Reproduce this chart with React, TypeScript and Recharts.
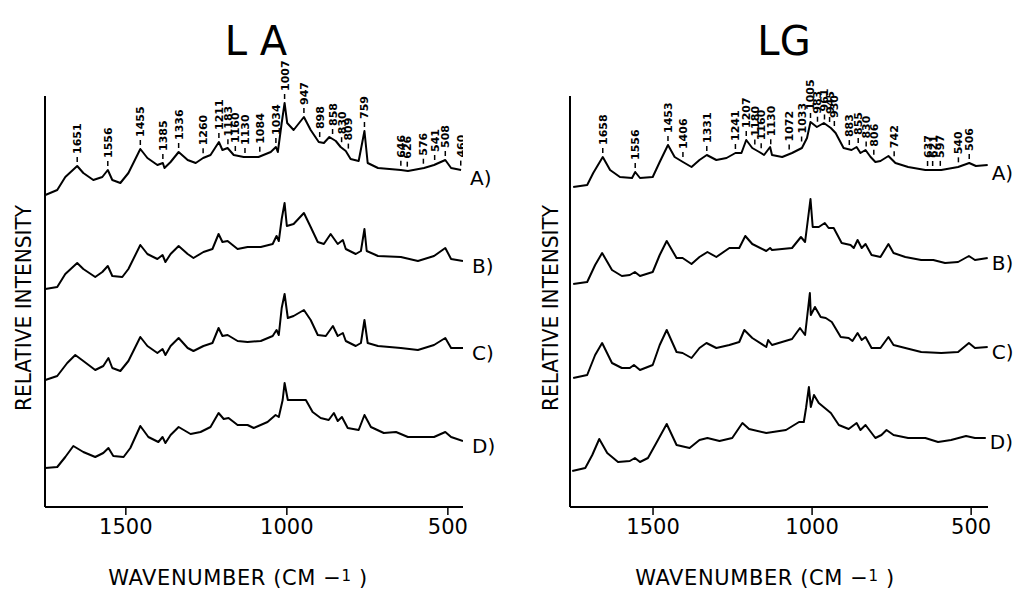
import React from 'react';
import { ComposedChart, Line, Scatter, XAxis, YAxis } from 'recharts';

type Pt = [number, number];

// wavenumber (cm-1), relative intensity (arbitrary units)
const laA: Pt[] = [[1750,312],[1713,317],[1688,330],[1651,341],[1632,334],[1601,327],[1573,330],[1556,337],[1542,327],[1517,324],[1492,334],[1455,358],[1433,349],[1402,342],[1385,344],[1380,339],[1361,345],[1336,355],[1308,347],[1283,344],[1260,349],[1237,352],[1211,365],[1200,357],[1184,359],[1165,352],[1134,350],[1088,350],[1050,355],[1034,360],[1028,355],[1016,384],[1007,404],[999,384],[979,377],[947,390],[926,377],[901,365],[885,364],[868,370],[848,366],[833,360],[817,356],[802,348],[777,346],[759,376],[749,344],[717,339],[646,337],[624,336],[574,339],[543,342],[508,347],[490,339],[459,337]];
const laB: Pt[] = [[1750,212],[1713,214],[1688,227],[1651,238],[1632,232],[1595,224],[1573,229],[1556,235],[1542,225],[1511,224],[1492,232],[1455,256],[1433,247],[1402,242],[1386,246],[1377,239],[1361,247],[1336,255],[1308,247],[1290,243],[1259,249],[1231,252],[1212,267],[1200,259],[1184,260],[1153,252],[1122,254],[1081,254],[1044,257],[1032,265],[1025,260],[1016,282],[1007,298],[1000,275],[979,277],[947,288],[926,274],[904,259],[885,257],[864,267],[842,257],[826,261],[817,252],[786,247],[770,250],[759,272],[752,250],[717,245],[646,244],[593,240],[543,245],[508,253],[490,242],[453,240]];
const laC: Pt[] = [[1750,110],[1713,114],[1682,127],[1657,135],[1632,129],[1595,120],[1570,124],[1554,132],[1542,122],[1517,119],[1492,129],[1455,153],[1433,144],[1402,137],[1386,141],[1377,135],[1361,144],[1336,152],[1308,142],[1290,139],[1259,144],[1231,147],[1212,162],[1200,154],[1184,155],[1153,149],[1122,148],[1081,149],[1044,154],[1032,160],[1025,155],[1016,182],[1007,196],[997,172],[979,174],[947,180],[926,170],[904,155],[879,154],[857,164],[842,154],[826,157],[817,149],[786,144],[770,147],[759,170],[749,147],[717,144],[646,142],[593,140],[543,145],[508,152],[490,142],[453,142]];
const laD: Pt[] = [[1750,9],[1713,10],[1688,20],[1663,31],[1632,25],[1595,20],[1570,24],[1554,29],[1539,21],[1507,20],[1486,29],[1455,51],[1430,40],[1399,35],[1386,40],[1377,34],[1361,42],[1336,50],[1299,43],[1268,45],[1237,50],[1212,64],[1196,58],[1181,59],[1153,52],[1122,52],[1103,49],[1060,55],[1035,62],[1025,60],[1013,77],[1007,94],[997,77],[979,77],[941,77],[920,65],[895,59],[870,57],[854,64],[842,56],[829,60],[811,49],[777,47],[759,62],[739,50],[699,44],[661,45],[624,40],[543,40],[508,45],[490,40],[453,36]];

const lgA: Pt[] = [[1751,320],[1707,322],[1688,334],[1658,350],[1635,337],[1604,330],[1566,329],[1556,335],[1541,329],[1501,330],[1479,345],[1453,362],[1432,350],[1406,345],[1379,340],[1354,347],[1331,352],[1301,347],[1269,349],[1241,354],[1222,354],[1207,367],[1188,359],[1166,355],[1151,352],[1132,360],[1126,352],[1094,350],[1063,354],[1032,359],[1016,369],[1005,385],[985,380],[963,384],[941,379],[926,374],[901,359],[876,357],[860,360],[848,354],[832,357],[816,350],[801,345],[785,346],[760,351],[738,344],[698,340],[644,337],[594,337],[541,340],[506,344],[485,341],[448,342]];
const lgB: Pt[] = [[1751,218],[1707,220],[1682,237],[1660,249],[1629,232],[1598,226],[1573,227],[1557,230],[1541,226],[1501,230],[1479,247],[1457,261],[1426,244],[1407,244],[1379,238],[1354,245],[1329,250],[1301,245],[1260,254],[1229,254],[1210,266],[1188,258],[1144,251],[1132,254],[1126,252],[1063,254],[1035,265],[1022,260],[1005,303],[998,275],[979,275],[960,279],[948,274],[932,274],[907,259],[879,257],[869,254],[857,262],[844,254],[832,258],[813,247],[785,245],[760,258],[744,249],[707,245],[657,242],[619,242],[582,239],[541,240],[507,246],[488,242],[448,244]];
const lgC: Pt[] = [[1751,114],[1707,117],[1682,137],[1660,149],[1629,129],[1598,124],[1573,124],[1560,127],[1541,122],[1501,127],[1479,147],[1457,162],[1426,140],[1407,139],[1379,134],[1354,144],[1332,149],[1301,144],[1260,147],[1229,150],[1213,162],[1188,154],[1144,145],[1138,152],[1126,147],[1063,153],[1038,164],[1022,157],[1007,199],[1004,177],[991,185],[973,175],[957,174],[938,170],[910,155],[885,154],[873,151],[857,159],[844,152],[832,155],[813,144],[785,144],[760,155],[744,147],[707,144],[657,140],[594,139],[541,140],[507,149],[488,144],[448,145]];
const lgD: Pt[] = [[1754,11],[1713,14],[1691,27],[1669,43],[1644,29],[1610,20],[1573,21],[1557,24],[1541,20],[1516,24],[1488,40],[1457,58],[1426,37],[1385,34],[1354,42],[1329,44],[1291,41],[1251,44],[1219,59],[1198,53],[1144,49],[1082,52],[1041,60],[1026,60],[1019,74],[1010,95],[1004,75],[994,87],[979,79],[941,69],[916,57],[885,53],[860,59],[848,52],[832,57],[801,44],[782,47],[766,52],[744,47],[698,44],[644,44],[604,40],[563,42],[516,46],[488,44],[454,44]];

const laPeaks = [1651, 1556, 1455, 1385, 1336, 1260, 1211, 1183, 1160, 1130, 1084, 1034, 1007, 947, 898, 858, 830, 809, 759, 646, 626, 576, 541, 508, 460];
const lgPeaks = [1658, 1556, 1453, 1406, 1331, 1241, 1207, 1180, 1160, 1130, 1072, 1033, 1005, 983, 961, 945, 930, 883, 855, 830, 806, 742, 637, 621, 597, 540, 506];

const traceNames = ['A)', 'B)', 'C)', 'D)'];
const xTicks = [500, 1000, 1500];

const FONT = 'DejaVu Sans, sans-serif';

const rows = (pts: Pt[], shift: number) => pts.map(([wn, v]) => ({ wn, v: v + shift }));

const interp = (pts: Pt[], wn: number) => {
  for (let i = 0; i < pts.length - 1; i++) {
    const [x0, y0] = pts[i];
    const [x1, y1] = pts[i + 1];
    if (wn <= x0 && wn >= x1) return y0 + ((x0 - wn) / (x0 - x1)) * (y1 - y0);
  }
  return pts[pts.length - 1][1];
};

// label sits above the local top of trace A
const peakRows = (pts: Pt[], peaks: number[]) =>
  peaks.map((wn) => ({
    wn,
    v: Math.max(interp(pts, wn - 5), interp(pts, wn), interp(pts, wn + 5)),
    label: String(wn),
  }));

const PeakMark = (props: any) => {
  const { cx, cy, payload } = props;
  if (cx == null || cy == null) return <g />;
  const ty = cy - 12;
  return (
    <g>
      <line x1={cx} x2={cx} y1={cy - 4} y2={cy - 9} stroke="#000" strokeWidth={1.5} />
      <text
        x={cx}
        y={ty}
        transform={`rotate(-90 ${cx} ${ty})`}
        dy="0.36em"
        fontSize={11}
        fontWeight="bold"
        fontFamily={FONT}
        fill="#000"
      >
        {payload.label}
      </text>
    </g>
  );
};

const endLabel = (name: string, last: number, dx: number, dy: number) => (props: any) => {
  if (props.index !== last) return <g key={props.index} />;
  return (
    <text key={props.index} x={props.x + dx} y={props.y + dy} dy="0.36em" fontSize={20} fontFamily={FONT} fill="#000">
      {name}
    </text>
  );
};

interface PanelProps {
  traces: Pt[][];
  shifts: number[];
  peaks: number[];
  domain: [number, number];
  left: number;
  width: number;
  marginLeft: number;
  marginRight: number;
  labelDx: number;
  labelDy: number[];
}

const Panel = ({ traces, shifts, peaks, domain, left, width, marginLeft, marginRight, labelDx, labelDy }: PanelProps) => (
  <div style={{ position: 'absolute', left, top: 0 }}>
    <ComposedChart width={width} height={598} margin={{ top: 96, right: marginRight, bottom: 51, left: marginLeft }}>
      <XAxis
        type="number"
        dataKey="wn"
        domain={domain}
        reversed
        ticks={xTicks}
        height={40}
        tickSize={8}
        tickMargin={4}
        allowDataOverflow
        axisLine={{ stroke: '#000', strokeWidth: 2 }}
        tickLine={{ stroke: '#000', strokeWidth: 1.5 }}
        tick={{ fontSize: 21, fill: '#000', fontFamily: FONT }}
      />
      <YAxis
        type="number"
        dataKey="v"
        domain={[0, 411]}
        width={1}
        tick={false}
        tickLine={false}
        axisLine={{ stroke: '#000', strokeWidth: 2 }}
      />
      {traces.map((t, i) => (
        <Line
          key={traceNames[i]}
          name={traceNames[i]}
          data={rows(t, shifts[i])}
          dataKey="v"
          type="linear"
          dot={false}
          stroke="#000"
          strokeWidth={2}
          strokeLinejoin="round"
          isAnimationActive={false}
          label={endLabel(traceNames[i], t.length - 1, labelDx, labelDy[i])}
        />
      ))}
      <Scatter data={peakRows(traces[0], peaks)} dataKey="v" shape={PeakMark} isAnimationActive={false} />
    </ComposedChart>
  </div>
);

const XLabel = ({ x }: { x: number }) => (
  <text x={x} y={585} textAnchor="middle" fontSize={21} fontFamily={FONT} fill="#000" letterSpacing={0.6}>
    WAVENUMBER (CM −<tspan fontSize={15} dy={-4}>1</tspan><tspan dy={4}> )</tspan>
  </text>
);

const YLabel = ({ x, y }: { x: number; y: number }) => (
  <text x={x} y={y} transform={`rotate(-90 ${x} ${y})`} textAnchor="middle" fontSize={22} fontFamily={FONT} fill="#000" textLength={206} lengthAdjust="spacingAndGlyphs">
    RELATIVE INTENSITY
  </text>
);

export default function App() {
  return (
    <div style={{ position: 'absolute', left: 0, top: 0, width: 1023, height: 598, background: '#fff', overflow: 'hidden' }}>
      <Panel traces={[laA, laB, laC, laD]} shifts={[0, 6, 17, 30]} peaks={laPeaks} domain={[453, 1751]} left={0} width={520} marginLeft={44} marginRight={57} labelDx={9} labelDy={[8, 5, 5, 5]} />
      <Panel traces={[lgA, lgB, lgC, lgD]} shifts={[0, 5, 15, 25]} peaks={lgPeaks} domain={[447, 1761]} left={520} width={503} marginLeft={49} marginRight={35} labelDx={4} labelDy={[8, 5, 5, 4]} />
      <svg width={1023} height={598} style={{ position: 'absolute', left: 0, top: 0, pointerEvents: 'none' }}>
        <text x={256} y={55} textAnchor="middle" fontSize={40} fontFamily={FONT} fill="#000">L A</text>
        <text x={784} y={55} textAnchor="middle" fontSize={40} fontFamily={FONT} fill="#000">LG</text>
        <YLabel x={31} y={308} />
        <YLabel x={558} y={308} />
        <XLabel x={238} />
        <XLabel x={765} />
      </svg>
    </div>
  );
}
